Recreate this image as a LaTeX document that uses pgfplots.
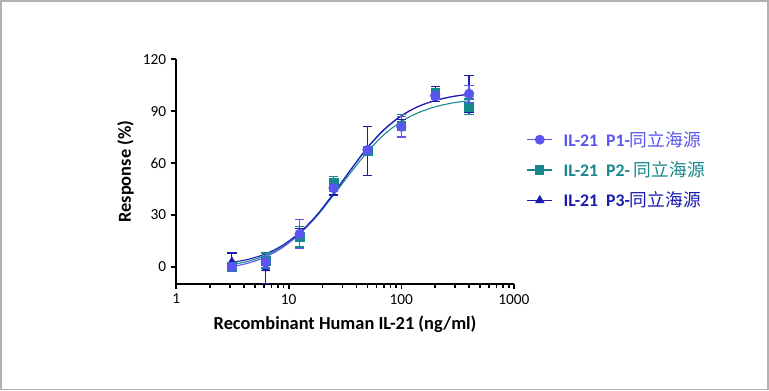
\documentclass[border=0pt]{standalone}
\usepackage{pgfplots}
\pgfplotsset{compat=1.18}
\usepackage{fontspec}
\setmainfont{Carlito}
\newfontfamily\cjk{Noto Sans CJK SC}
\definecolor{cA}{HTML}{5A55F0}
\definecolor{cB}{HTML}{16878C}
\definecolor{cC}{HTML}{1A1AB0}
\pgfplotsset{bars/.style={draw=#1, line width=0.9pt, unbounded coords=jump, forget plot, mark=none},
  caps/.style={draw=#1, only marks, mark=-, mark size=3.5pt, mark options={draw=#1, line width=0.9pt}, forget plot}}
\begin{document}
\begin{tikzpicture}[x=0.75pt,y=0.75pt]
\draw[gray!60, line width=1.2pt] (-175.5,-105.5) rectangle (592.5,283.5);
\begin{axis}[
  at={(0,0)}, anchor=south west,
  scale only axis, width=253.5pt, height=168.75pt,
  xmode=log, xmin=1, xmax=1000,
  ymin=-10, ymax=120,
  axis lines=left, axis line style={-, line width=1.2pt, black},
  xtick={1,10,100,1000}, xticklabels={1,10,100,1000},
  ytick={0,30,60,90,120},
  minor xtick={}, 
  tick style={line width=1.2pt, black},
  tick align=outside, major tick length=4pt,
  every tick label/.style={font=\fontsize{11.5}{13}\selectfont},
  /pgf/number format/assume math mode=true,
  xlabel={\bfseries Recombinant Human IL-21 (ng/ml)},
  ylabel={\bfseries Response (\%)},
  label style={font=\fontsize{13.8}{15}\selectfont},
  xlabel style={yshift=-2pt},
  clip=false,
  legend style={draw=none, fill=none, at={(1.025,0.705)}, anchor=north west,
    font=\fontsize{13.3}{15}\selectfont, row sep=6pt},
  legend cell align=left,
  legend image code/.code={\draw[#1] (0pt,0pt) -- (19pt,0pt); \draw[#1, mark repeat=2, mark phase=2] plot coordinates {(0pt,0pt) (9.5pt,0pt) (19pt,0pt)};},
]
% fitted curves
\addplot[cB, line width=0.8pt, smooth, forget plot] coordinates {
(3.125,1.2)(4.42,3.3)(6.25,6.6)(8.84,11.7)(12.5,19.2)(17.68,29.1)(25,41.4)(35.36,54.3)(50,66.5)(70.7,76.6)(100,84.0)(141.4,89.1)(200,92.5)(282.8,94.7)(400,96.0)};
\addplot[cA, line width=0.8pt, smooth, forget plot] coordinates {
(3.125,0.0)(4.42,2.2)(6.25,5.7)(8.84,11.2)(12.5,19.0)(17.68,29.5)(25,42.3)(35.36,55.8)(50,68.6)(70.7,79.2)(100,87.1)(141.4,92.7)(200,96.1)(282.8,98.4)(400,99.8)};
\addplot[cC, line width=0.8pt, smooth, forget plot] coordinates {
(3.125,2.5)(4.42,4.4)(6.25,7.5)(8.84,12.5)(12.5,19.8)(17.68,29.8)(25,42.4)(35.36,56.0)(50,69.0)(70.7,79.6)(100,87.4)(141.4,92.7)(200,96.2)(282.8,98.4)(400,99.8)};
% P3 error bars and points
\addplot[bars=cC] coordinates {
(3.125,8)(3.125,-2)(3.125,nan)(6.25,7.5)(6.25,-9.5)(6.25,nan)(12.5,22)(12.5,16)(12.5,nan)(25,48.5)(25,41.5)(25,nan)(50,81)(50,53)(50,nan)(100,85)(100,79)(100,nan)(200,104.4)(200,95.6)(200,nan)(400,110.5)(400,89.5)};
\addplot[caps=cC] coordinates {
(3.125,8)(3.125,-2)(6.25,7.5)(6.25,-9.5)(12.5,22)(12.5,16)(25,48.5)(25,41.5)(50,81)(50,53)(100,85)(100,79)(200,104.4)(200,95.6)(400,110.5)(400,89.5)};
\addplot[color=cC, only marks, mark=triangle*, mark size=3.6pt, forget plot]
 coordinates {(3.125,3)(6.25,-1)(12.5,19)(25,45)(50,67)(100,82)(200,100)(400,100)};
% P2 error bars and points
\addplot[bars=cB] coordinates {
(3.125,1.5)(3.125,-1.5)(3.125,nan)(6.25,8)(6.25,-1)(6.25,nan)(12.5,23.5)(12.5,11.5)(12.5,nan)(25,52.1)(25,45.1)(25,nan)(50,69)(50,65)(50,nan)(100,88)(100,75)(100,nan)(200,103)(200,97)(200,nan)(400,97)(400,88)};
\addplot[caps=cB] coordinates {
(3.125,1.5)(3.125,-1.5)(6.25,8)(6.25,-1)(12.5,23.5)(12.5,11.5)(25,52.1)(25,45.1)(50,69)(50,65)(100,88)(100,75)(200,103)(200,97)(400,97)(400,88)};
\addplot[color=cB, only marks, mark=square*, mark size=3.3pt, forget plot]
 coordinates {(3.125,0)(6.25,3.5)(12.5,17.5)(25,48.6)(50,67)(100,81.5)(200,100)(400,92.5)};
% P1 error bars and points
\addplot[bars=cA] coordinates {
(3.125,1.5)(3.125,-1.5)(3.125,nan)(6.25,5.5)(6.25,-0.5)(6.25,nan)(12.5,27.5)(12.5,10.5)(12.5,nan)(25,47.5)(25,43.5)(25,nan)(50,69.5)(50,65.5)(50,nan)(100,87)(100,75)(100,nan)(200,101)(200,97)(200,nan)(400,105)(400,95)};
\addplot[caps=cA] coordinates {
(3.125,1.5)(3.125,-1.5)(6.25,5.5)(6.25,-0.5)(12.5,27.5)(12.5,10.5)(25,47.5)(25,43.5)(50,69.5)(50,65.5)(100,87)(100,75)(200,101)(200,97)(400,105)(400,95)};
\addplot[color=cA, only marks, mark=*, mark size=3.6pt, forget plot]
 coordinates {(3.125,0)(6.25,2.5)(12.5,19)(25,45.5)(50,67.5)(100,81)(200,99)(400,100)};
\addlegendimage{cA, line width=0.8pt, mark=*, mark size=3.3pt}
\addlegendentry{\hspace{6pt}\textcolor{cA}{\textbf{IL-21\ \ P1-}{\cjk 同立海源}}}
\addlegendimage{cB, line width=0.8pt, mark=square*, mark size=3pt}
\addlegendentry{\hspace{6pt}\textcolor{cB}{\textbf{IL-21\ \ P2-} {\cjk 同立海源}}}
\addlegendimage{cC, line width=0.8pt, mark=triangle*, mark size=3.3pt}
\addlegendentry{\hspace{6pt}\textcolor{cC}{\textbf{IL-21\ \ P3-}{\cjk 同立海源}}}
\end{axis}
\end{tikzpicture}
\end{document}
